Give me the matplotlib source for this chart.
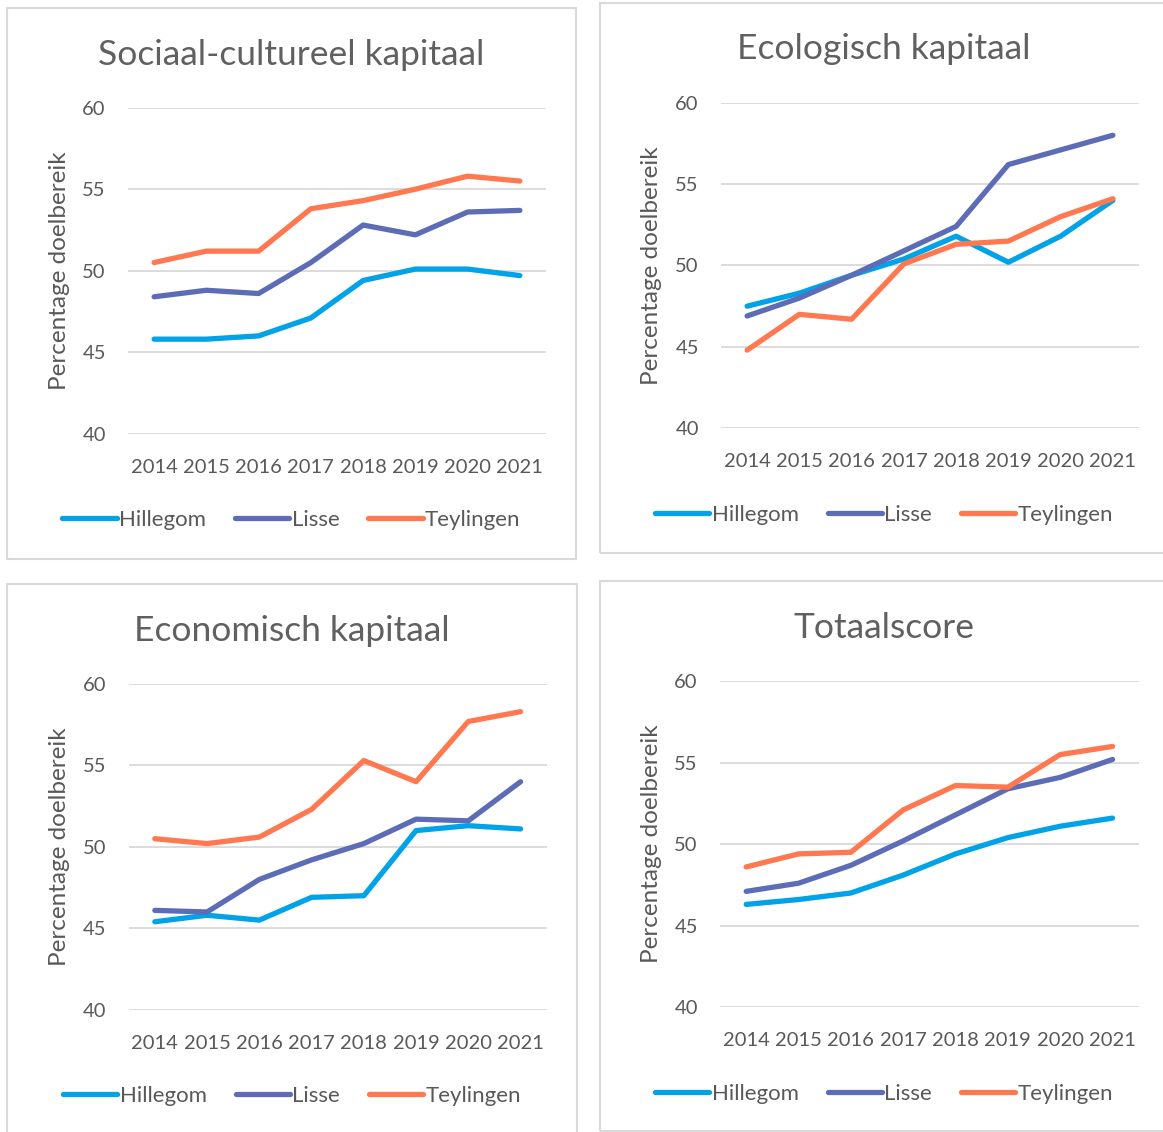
import matplotlib.pyplot as plt
from matplotlib.patches import Rectangle

plt.rcParams['font.family'] = ['Lato', 'DejaVu Sans']

years = ["2014", "2015", "2016", "2017", "2018", "2019", "2020", "2021"]
gemeenten = ["Hillegom", "Lisse", "Teylingen"]
colors = ["#00A2E8", "#5D6CB6", "#FF7850"]

titles = ["Sociaal-cultureel kapitaal", "Ecologisch kapitaal",
          "Economisch kapitaal", "Totaalscore"]

sociaal_hillegom = [45.8, 45.8, 46.0, 47.1, 49.4, 50.1, 50.1, 49.7]
sociaal_lisse = [48.4, 48.8, 48.6, 50.5, 52.8, 52.2, 53.6, 53.7]
sociaal_teylingen = [50.5, 51.2, 51.2, 53.8, 54.3, 55.0, 55.8, 55.5]

ecologisch_hillegom = [47.5, 48.3, 49.4, 50.4, 51.8, 50.2, 51.8, 54.0]
ecologisch_lisse = [46.9, 48.0, 49.4, 50.9, 52.4, 56.2, 57.1, 58.0]
ecologisch_teylingen = [44.8, 47.0, 46.7, 50.1, 51.3, 51.5, 53.0, 54.1]

economisch_hillegom = [45.4, 45.8, 45.5, 46.9, 47.0, 51.0, 51.3, 51.1]
economisch_lisse = [46.1, 46.0, 48.0, 49.2, 50.2, 51.7, 51.6, 54.0]
economisch_teylingen = [50.5, 50.2, 50.6, 52.3, 55.3, 54.0, 57.7, 58.3]

totaal_hillegom = [46.3, 46.6, 47.0, 48.1, 49.4, 50.4, 51.1, 51.6]
totaal_lisse = [47.1, 47.6, 48.7, 50.2, 51.8, 53.4, 54.1, 55.2]
totaal_teylingen = [48.6, 49.4, 49.5, 52.1, 53.6, 53.5, 55.5, 56.0]

panel_data = [
    [sociaal_hillegom, sociaal_lisse, sociaal_teylingen],
    [ecologisch_hillegom, ecologisch_lisse, ecologisch_teylingen],
    [economisch_hillegom, economisch_lisse, economisch_teylingen],
    [totaal_hillegom, totaal_lisse, totaal_teylingen],
]

W, H = 1163, 1132
fig = plt.figure(figsize=(W / 100, H / 100), dpi=100)


def fx(px):
    return px / W


def fy(py):
    return 1 - py / H


# panel frames (left, top, right, bottom) in pixels
frames = [(7, 8, 576, 559), (600, 3, 1170, 553),
          (7, 584, 577, 1140), (600, 581, 1170, 1131)]
# plot areas (left, top, right, bottom)
plot_areas = [(128, 107.7, 546, 433.7), (721, 102.7, 1139, 428.3),
              (128.7, 684, 546.7, 1009.7), (720, 681.3, 1138.7, 1007)]
title_pos = [(291, 55), (884, 49), (292, 631), (884, 628)]
ylabel_x = [60, 652, 60, 651]
legend_y = [520, 515, 1096, 1094]

gray = "#595959"

for i in range(4):
    l, t, r, b = frames[i]
    fig.patches.append(Rectangle((fx(l), fy(b)), fx(r - l), (b - t) / H,
                                 transform=fig.transFigure, fill=False,
                                 edgecolor="#D9D9D9", linewidth=1.5))

    l, t, r, b = plot_areas[i]
    ax = fig.add_axes([fx(l), fy(b), fx(r - l), (b - t) / H])
    for series, name, c in zip(panel_data[i], gemeenten, colors):
        ax.plot(range(len(years)), series, color=c, linewidth=3.8,
                solid_capstyle="round", label=name)
    ax.set_xlim(-0.5, len(years) - 0.5)
    ax.set_ylim(40, 60)
    ax.set_yticks([40, 45, 50, 55, 60])
    ax.set_xticks(range(len(years)))
    ax.set_xticklabels(years)
    ax.grid(axis="y", color="#D9D9D9", linewidth=1.3)
    ax.set_axisbelow(True)
    for s in ax.spines.values():
        s.set_visible(False)
    ax.tick_params(axis="y", length=0, pad=16, labelsize=14.5, labelcolor=gray)
    ax.tick_params(axis="x", length=0, pad=18, labelsize=14.5, labelcolor=gray)
    ax.set_ylabel("Percentage doelbereik", fontsize=17.5, color=gray, va="center")
    ax.yaxis.set_label_coords((ylabel_x[i] - l) / (r - l), 0.5)

    tx, ty = title_pos[i]
    fig.text(fx(tx), fy(ty), titles[i], ha="center", va="center",
             fontsize=25.5, color="#606060")

    cx = (frames[i][0] + min(frames[i][2], 1168)) / 2
    ax.legend(loc="center", bbox_to_anchor=(fx(cx), fy(legend_y[i])),
              bbox_transform=fig.transFigure, ncol=3, frameon=False,
              fontsize=16, labelcolor=gray, handlelength=2.45,
              handletextpad=0.1, columnspacing=1.3)

fig.savefig("out.png", dpi=100)
